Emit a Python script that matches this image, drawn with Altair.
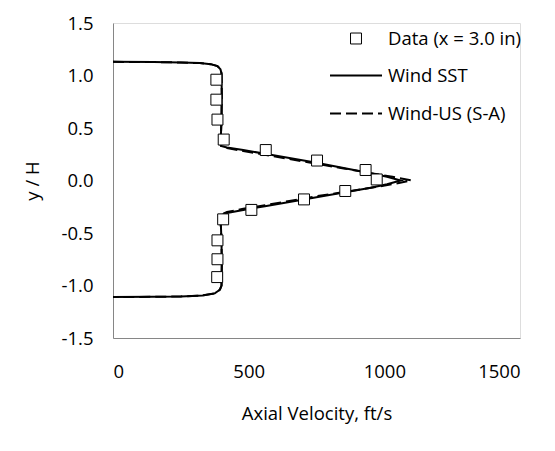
import altair as alt
import pandas as pd

# Measured data points (x = 3.0 in)
data_x = [381, 381, 385, 408, 563, 752, 931, 972, 856, 704, 510, 406, 385, 385, 384]
data_y = [0.96, 0.77, 0.58, 0.39, 0.29, 0.19, 0.10, 0.01, -0.10, -0.18, -0.28, -0.37, -0.57, -0.75, -0.92]

# Wind SST profile (solid)
sst_x = [0, 150, 250, 320, 360, 385, 396, 400, 401, 400, 398, 395, 398, 420, 480, 560, 650, 750,
         850, 950, 1010, 1060, 1010, 950, 850, 750, 650, 560, 480, 420, 398, 395, 398, 400, 401,
         400, 394, 375, 330, 250, 150, 0]
sst_y = [1.13, 1.128, 1.124, 1.118, 1.108, 1.09, 1.06, 1.02, 0.8, 0.6, 0.45, 0.36, 0.33, 0.315,
         0.29, 0.255, 0.215, 0.17, 0.12, 0.07, 0.035, 0.0, -0.035, -0.07, -0.115, -0.16, -0.205,
         -0.245, -0.28, -0.31, -0.33, -0.36, -0.45, -0.6, -0.8, -1.0, -1.04, -1.075, -1.095, -1.104,
         -1.108, -1.11]

# Wind-US (S-A) profile (dashed)
sa_x = [0, 150, 250, 320, 360, 385, 396, 400, 401, 400, 398, 395, 398, 420, 480, 560, 650, 750,
        850, 950, 1030, 1100, 1030, 950, 850, 750, 650, 560, 480, 420, 398, 395, 398, 400, 401,
        400, 394, 375, 330, 250, 150, 0]
sa_y = [1.13, 1.128, 1.124, 1.118, 1.108, 1.09, 1.06, 1.02, 0.8, 0.6, 0.45, 0.36, 0.33, 0.31,
        0.28, 0.245, 0.205, 0.16, 0.115, 0.07, 0.035, 0.0, -0.035, -0.07, -0.11, -0.15, -0.195,
        -0.235, -0.27, -0.30, -0.325, -0.36, -0.45, -0.6, -0.8, -1.0, -1.04, -1.075, -1.095, -1.104,
        -1.108, -1.11]

x_ticks = [0, 500, 1000, 1500]
y_ticks = [-1.5, -1.0, -0.5, 0.0, 0.5, 1.0, 1.5]
legend_labels = ["Data (x = 3.0 in)", "Wind SST", "Wind-US (S-A)"]

FONT = "Open Sans"
FS = 18.5

df_data = pd.DataFrame({"x": data_x, "y": data_y})
df_sst = pd.DataFrame({"x": sst_x, "y": sst_y, "i": range(len(sst_x))})
df_sa = pd.DataFrame({"x": sa_x, "y": sa_y, "i": range(len(sa_x))})

label_expr = "datum.value < 0 ? '-' + format(-datum.value, '.1f') : format(datum.value, '.1f')"

xscale = alt.Scale(domain=[0, 1500], nice=False, zero=False)
yscale = alt.Scale(domain=[-1.5, 1.5], nice=False, zero=False)

xaxis = alt.Axis(values=x_ticks, format="d", title="Axial Velocity, ft/s", grid=False, ticks=False, tickSize=0,
                 labelPadding=24, domainColor="#868686", labelFont=FONT, labelFontSize=FS,
                 labelColor="#000000", titleFont=FONT, titleFontSize=FS, titleFontWeight="normal",
                 titleColor="#000000", titleY=81, titleBaseline="alphabetic")
yaxis = alt.Axis(values=y_ticks, title="y / H", grid=False, ticks=False, tickSize=0,
                 labelPadding=20, domainColor="#868686", labelFont=FONT, labelFontSize=FS,
                 labelColor="#000000", labelExpr=label_expr, titleFont=FONT, titleFontSize=FS,
                 titleFontWeight="normal", titleColor="#000000", titleX=-75, titleAngle=-90,
                 titleBaseline="alphabetic")

sa_line = alt.Chart(df_sa).mark_line(color="black", strokeWidth=2, strokeDash=[11, 5]).encode(
    x=alt.X("x:Q", scale=xscale, axis=xaxis),
    y=alt.Y("y:Q", scale=yscale, axis=yaxis),
    order="i:Q",
)
sst_line = alt.Chart(df_sst).mark_line(color="black", strokeWidth=2).encode(
    x=alt.X("x:Q", scale=xscale),
    y=alt.Y("y:Q", scale=yscale),
    order="i:Q",
)
points = alt.Chart(df_data).mark_point(shape="square", size=120, filled=False, fill="white",
                                       fillOpacity=1, stroke="black", strokeWidth=1, opacity=1).encode(
    x=alt.X("x:Q", scale=xscale),
    y=alt.Y("y:Q", scale=yscale),
)

# Manual legend (pixel positions inside plot area)
leg_sq = alt.Chart(pd.DataFrame({"a": [0]})).mark_point(shape="square", size=120, fill="white",
                                                         fillOpacity=1, stroke="black", strokeWidth=1, opacity=1).encode(
    x=alt.value(243), y=alt.value(15.5))
leg_solid = alt.Chart(pd.DataFrame({"a": [0]})).mark_rule(color="black", strokeWidth=2).encode(
    x=alt.value(217), x2=alt.value(269), y=alt.value(52.5))
leg_dash = alt.Chart(pd.DataFrame({"a": [0]})).mark_rule(color="black", strokeWidth=2, strokeDash=[11, 5]).encode(
    x=alt.value(217), x2=alt.value(269), y=alt.value(90.5))
leg_texts = []
for lab, yy in zip(legend_labels, [15.5, 52.5, 90.5]):
    leg_texts.append(
        alt.Chart(pd.DataFrame({"a": [0]})).mark_text(align="left", baseline="middle", font=FONT,
                                                      fontSize=FS, color="black").encode(
            x=alt.value(275), y=alt.value(yy), text=alt.value(lab))
    )

chart = alt.layer(sa_line, sst_line, points, leg_sq, leg_solid, leg_dash, *leg_texts).properties(
    width=407, height=315,
    autosize=alt.AutoSizeParams(type="none"),
    padding={"left": 105, "top": 15, "right": 27, "bottom": 95},
).configure_view(stroke=None).configure(background="white")

chart.save("out.html", embed_options={"renderer": "svg", "actions": False})
